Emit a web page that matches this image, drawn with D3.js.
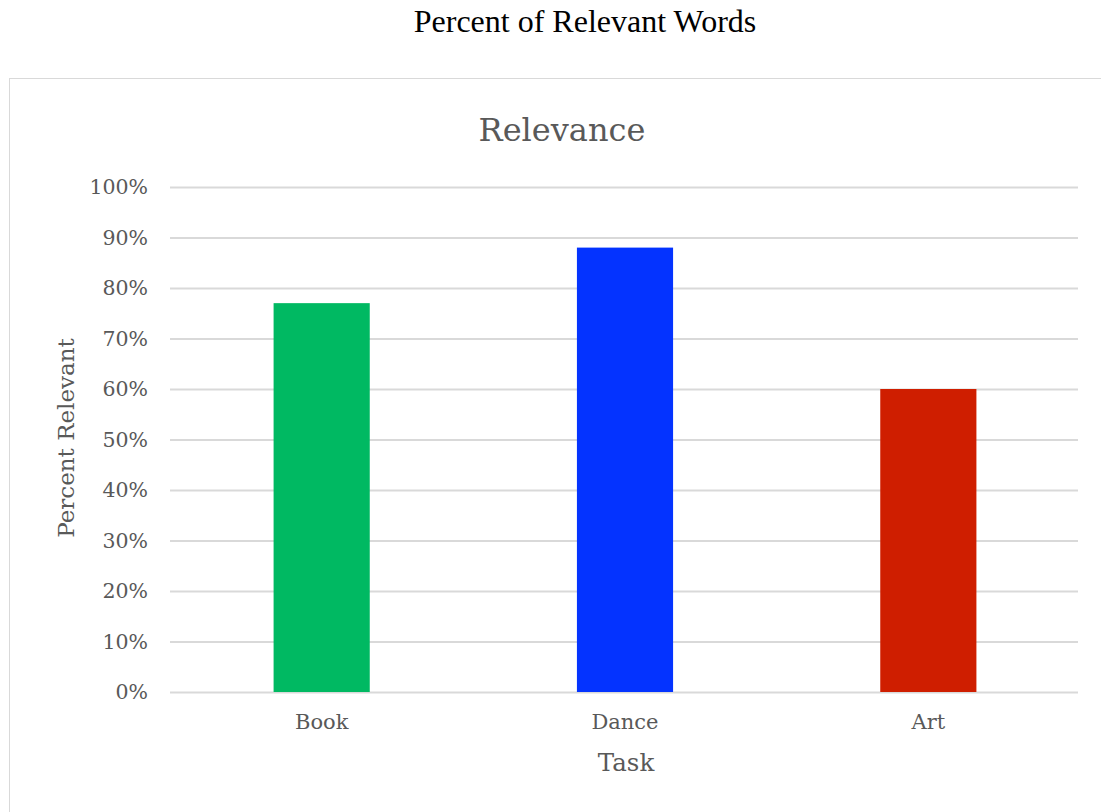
<!DOCTYPE html>
<html><head><meta charset="utf-8">
<script src="https://cdn.jsdelivr.net/npm/d3@7"></script>
<style>body{margin:0;background:#fff}svg{display:block}</style>
</head><body>
<script>
const categories = ["Book", "Dance", "Art"];
const values = [0.77, 0.88, 0.60];
const colors = ["#00B962", "#0433FF", "#CF1E00"];
const yTicks = [0, 0.1, 0.2, 0.3, 0.4, 0.5, 0.6, 0.7, 0.8, 0.9, 1.0];

const W = 1101, H = 812;
const svg = d3.select("body").append("svg").attr("width", W).attr("height", H);
const serif = "'DejaVu Serif', serif";

svg.append("text").attr("x", 585).attr("y", 32).attr("text-anchor", "middle")
  .style("font-family", "'Liberation Serif', 'Times New Roman', serif").style("font-size", "32px").attr("fill", "#000")
  .text("Percent of Relevant Words");

// chart frame
svg.append("rect").attr("x", 9.5).attr("y", 78.5).attr("width", 1120).attr("height", 800)
  .attr("fill", "#fff").attr("stroke", "#d9d9d9").attr("stroke-width", 1);

const m = {left: 170, right: 1078, top: 187, bottom: 692};
const x = d3.scaleBand().domain(categories).range([m.left, m.right + 2]).paddingInner(0.683).paddingOuter(0.3415);
const y = d3.scaleLinear().domain([0, 1]).range([m.bottom, m.top]);

svg.append("text").attr("x", 562).attr("y", 141).attr("text-anchor", "middle")
  .style("font-family", serif).style("font-size", "32px").attr("fill", "#595959").text("Relevance");

const yAxis = d3.axisLeft(y).tickValues(yTicks).tickFormat(d3.format(".0%")).tickSize(-(m.right - m.left)).tickPadding(22);
const gy = svg.append("g").attr("transform", `translate(${m.left},0)`).call(yAxis);
gy.select(".domain").remove();
gy.selectAll(".tick line").attr("stroke", "#d9d9d9").attr("stroke-width", 2);
gy.selectAll(".tick text").style("font-family", serif).style("font-size", "20.5px").attr("fill", "#595959");

svg.append("g").selectAll("rect").data(categories).join("rect")
  .attr("x", d => x(d)).attr("width", x.bandwidth())
  .attr("y", (d, i) => y(values[i])).attr("height", (d, i) => y(0) - y(values[i]))
  .attr("fill", (d, i) => colors[i]);

const xAxis = d3.axisBottom(x).tickSize(0).tickPadding(22);
const gx = svg.append("g").attr("transform", `translate(0,${m.bottom})`).call(xAxis);
gx.select(".domain").remove();
gx.selectAll(".tick text").style("font-family", serif).style("font-size", "21px").attr("fill", "#595959");

svg.append("text").attr("x", 626).attr("y", 771).attr("text-anchor", "middle")
  .style("font-family", serif).style("font-size", "24.5px").attr("fill", "#595959").text("Task");

svg.append("text").attr("transform", "translate(74,438) rotate(-90)").attr("text-anchor", "middle")
  .style("font-family", serif).style("font-size", "23px").attr("fill", "#595959").text("Percent Relevant");
</script>
</body></html>
